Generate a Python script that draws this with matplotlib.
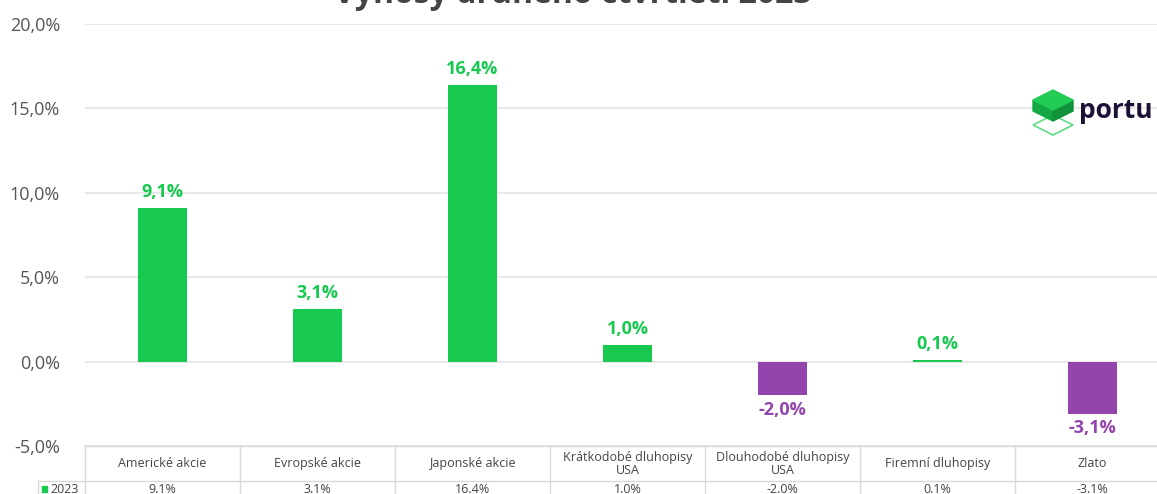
import matplotlib
matplotlib.use("Agg")
import matplotlib.pyplot as plt
from matplotlib.patches import Polygon, Rectangle
from matplotlib.transforms import blended_transform_factory
from matplotlib.lines import Line2D

categories = ["Americké akcie", "Evropské akcie", "Japonské akcie",
              "Krátkodobé dluhopisy\nUSA", "Dlouhodobé dluhopisy\nUSA",
              "Firemní dluhopisy", "Zlato"]
values = [9.1, 3.1, 16.4, 1.0, -2.0, 0.1, -3.1]
series_name = "2023"
title = "Výnosy druhého čtvrtletí 2023"
yticks = [-5, 0, 5, 10, 15, 20]

GREEN = "#17c94f"
PURPLE = "#9444ad"
GRAY = "#555555"
FONT = ["Open Sans", "DejaVu Sans"]
plt.rcParams['font.family'] = FONT

W, H = 1157, 494
fig = plt.figure(figsize=(W / 100, H / 100), dpi=100)
left_px, top_px, bot_px = 85, 24, 446
col_w = 155
n = len(categories)
ax = fig.add_axes([left_px / W, (H - bot_px) / H, n * col_w / W, (bot_px - top_px) / H])
ax.set_xlim(-0.5, n - 0.5)
ax.set_ylim(-5, 20)
for s in ax.spines.values():
    s.set_visible(False)
ax.set_xticks([])
ax.set_yticks(yticks)
ax.set_yticklabels([f"{t:.1f}%".replace(".", ",") for t in yticks], fontsize=13, color=GRAY)
ax.tick_params(axis='y', length=0, pad=18)
ax.grid(axis='y', color="#e4e4e4", lw=1.2)
ax.set_axisbelow(True)

x = list(range(n))
colors = [GREEN if v >= 0 else PURPLE for v in values]
bars = ax.bar(x, values, width=0.315, color=colors, zorder=3)
for xi, v, c in zip(x, values, colors):
    lbl = f"{v:.1f}%".replace(".", ",")
    if v >= 0:
        ax.annotate(lbl, (xi, v), xytext=(0, 5), textcoords="offset points",
                    ha="center", va="bottom", fontsize=13, fontweight="bold", color=c)
    else:
        ax.annotate(lbl, (xi, v), xytext=(0, -4), textcoords="offset points",
                    ha="center", va="top", fontsize=13, fontweight="bold", color=c)

# Title (partly cut off at top)
fig.text(573 / W, (H - 3) / H, title, ha="center", va="baseline", fontsize=23,
         fontweight="bold", color="#444444")

# Data table
tr = blended_transform_factory(ax.transData, fig.transFigure)
ftr = fig.transFigure
def fy(px):
    return (H - px) / H
def fx(px):
    return px / W
line_c = "#d9d9d9"
row1_top, row1_bot, row2_bot = 446, 481, 520
fig.add_artist(Line2D([fx(left_px), fx(left_px + n * col_w)], [fy(row1_top)] * 2, color=line_c, lw=1))
fig.add_artist(Line2D([fx(38), fx(left_px + n * col_w)], [fy(row1_bot)] * 2, color=line_c, lw=1))
fig.add_artist(Line2D([fx(38)] * 2, [fy(row1_bot), fy(row2_bot)], color=line_c, lw=1))
for i in range(n + 1):
    xp = left_px + i * col_w
    fig.add_artist(Line2D([fx(xp)] * 2, [fy(row1_top), fy(row2_bot)], color=line_c, lw=1))
for xi, cat, v in zip(x, categories, values):
    ax.text(xi, fy((row1_top + row1_bot) / 2), cat, transform=tr, ha="center", va="center",
            fontsize=9, color="#444444", linespacing=1.0)
    ax.text(xi, fy(489), f"{v:.1f}%", transform=tr, ha="center", va="center",
            fontsize=9, color="#444444")
fig.add_artist(Rectangle((fx(42), fy(492)), 5 / W, 6 / H, transform=ftr, color=GREEN))
fig.text(fx(50), fy(489), series_name, ha="left", va="center", fontsize=9, color="#444444")

# Logo
def P(pts, **kw):
    fig.add_artist(Polygon([(fx(a), fy(b)) for a, b in pts], closed=True, transform=ftr, **kw))
P([(1033, 125), (1053, 115), (1073, 125), (1053, 135)], fill=False, edgecolor="#5ddc83", lw=1.2)
P([(1033, 100), (1053, 110), (1053, 121), (1033, 111)], color="#14a843")
P([(1053, 110), (1073, 100), (1073, 111), (1053, 121)], color="#0f9239")
P([(1053, 90), (1073, 100), (1053, 110), (1033, 100)], color="#22cc55")
fig.text(fx(1079), fy(110), "portu", ha="left", va="center", fontsize=19,
         fontweight="bold", color="#1c1036")

fig.savefig("out.png", dpi=100)
